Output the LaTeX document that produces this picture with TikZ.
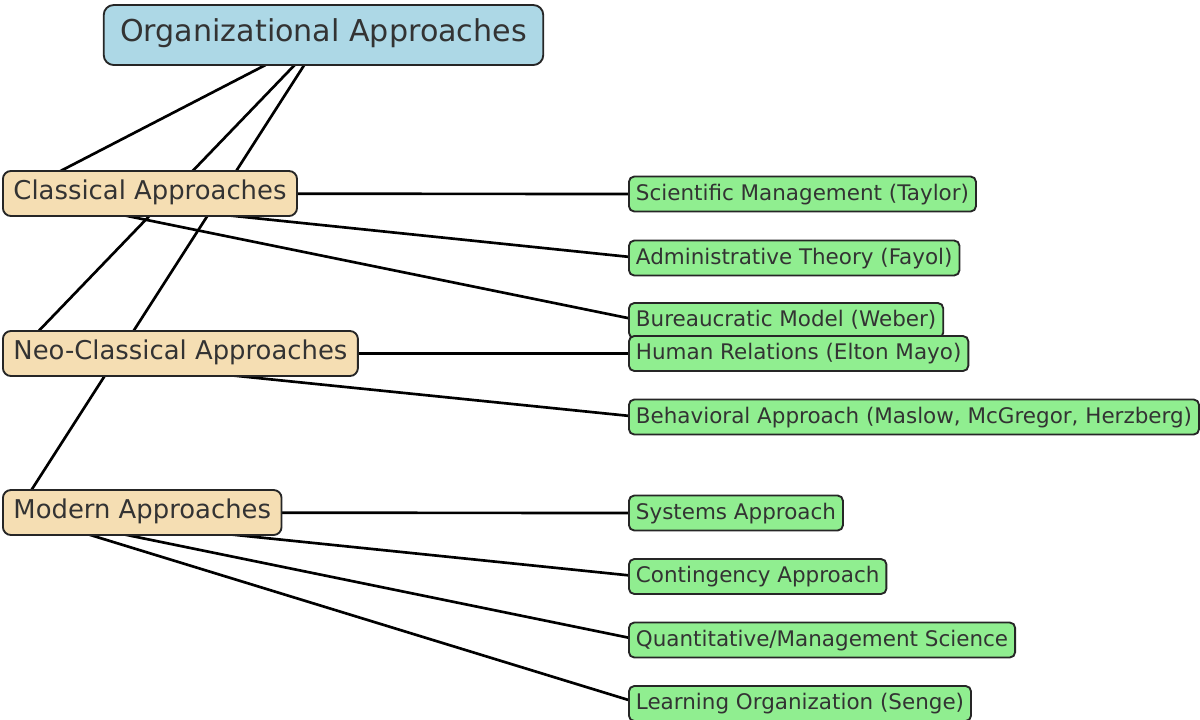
\documentclass[tikz,border=0pt]{standalone}
\usepackage{fontspec}
\setmainfont{DejaVu Sans}
\usetikzlibrary{backgrounds}

\definecolor{rootblue}{HTML}{ADD8E6}
\definecolor{catwheat}{HTML}{F5DEB3}
\definecolor{subgreen}{HTML}{90EE90}
\definecolor{txtgray}{HTML}{333333}

\tikzset{every picture/.style={line width=0.75pt}}
\tikzset{
  rootbox/.style={draw=black!85, line width=1.4pt, fill=rootblue, rounded corners=7.5pt, text=txtgray,
    font=\fontsize{22.6}{27}\selectfont, inner xsep=12.4pt, inner ysep=0pt,
    text height=1.044em, text depth=0.12em, minimum height=45pt},
  catbox/.style={draw=black!85, line width=1.4pt, fill=catwheat, rounded corners=6pt, text=txtgray,
    font=\fontsize{19.4}{23}\selectfont, inner xsep=7.9pt, inner ysep=0pt,
    text height=1.044em, text depth=0.12em, minimum height=33.75pt, anchor=west},
  subbox/.style={draw=black!85, line width=1.4pt, fill=subgreen, rounded corners=4pt, text=txtgray,
    font=\fontsize{16.1}{19}\selectfont, inner xsep=5.25pt, inner ysep=0pt,
    text height=1.044em, text depth=0.12em, minimum height=26.25pt, anchor=west},
  link/.style={draw=black, line width=2pt}
}

\begin{document}
\begin{tikzpicture}[x=0.75pt,y=0.75pt,yscale=-1,xscale=1]
\useasboundingbox (0,0) rectangle (1200,719);

% Text Node
\draw (323.5,35) node [rootbox] (org) {Organizational Approaches};
% Text Node
\draw (2,193.5) node [catbox] (classical) {Classical Approaches};
% Text Node
\draw (2,353.5) node [catbox] (neo) {Neo-Classical Approaches};
% Text Node
\draw (2,512.5) node [catbox] (modern) {Modern Approaches};

% Text Node
\draw (628,194) node [subbox] (taylor) {Scientific Management (Taylor)};
% Text Node
\draw (628,258) node [subbox] (fayol) {Administrative Theory (Fayol)};
% Text Node
\draw (628,320.5) node [subbox] (weber) {Bureaucratic Model (Weber)};
% Text Node
\draw (628,353.5) node [subbox] (mayo) {Human Relations (Elton Mayo)};
% Text Node
\draw (628,417) node [subbox] (behav) {Behavioral Approach (Maslow, McGregor, Herzberg)};
% Text Node
\draw (628,513) node [subbox] (systems) {Systems Approach};
% Text Node
\draw (628,576.5) node [subbox] (conting) {Contingency Approach};
% Text Node
\draw (628,640) node [subbox] (quant) {Quantitative/Management Science};
% Text Node
\draw (628,703.5) node [subbox] (senge) {Learning Organization (Senge)};

\begin{scope}[on background layer]
%Straight Lines
\draw [link] (org.center) -- ([xshift=11.25pt]classical.west) ;
\draw [link] (org.center) -- ([xshift=11.25pt]neo.west) ;
\draw [link] (org.center) -- ([xshift=11.25pt]modern.west) ;
%Straight Lines
\draw [link] ([xshift=11.25pt]classical.west) -- ([xshift=9pt]taylor.west) ;
\draw [link] ([xshift=11.25pt]classical.west) -- ([xshift=9pt]fayol.west) ;
\draw [link] ([xshift=11.25pt]classical.west) -- ([xshift=9pt]weber.west) ;
%Straight Lines
\draw [link] ([xshift=11.25pt]neo.west) -- ([xshift=9pt]mayo.west) ;
\draw [link] ([xshift=11.25pt]neo.west) -- ([xshift=9pt]behav.west) ;
%Straight Lines
\draw [link] ([xshift=11.25pt]modern.west) -- ([xshift=9pt]systems.west) ;
\draw [link] ([xshift=11.25pt]modern.west) -- ([xshift=9pt]conting.west) ;
\draw [link] ([xshift=11.25pt]modern.west) -- ([xshift=9pt]quant.west) ;
\draw [link] ([xshift=11.25pt]modern.west) -- ([xshift=9pt]senge.west) ;
\end{scope}

\end{tikzpicture}
\end{document}
